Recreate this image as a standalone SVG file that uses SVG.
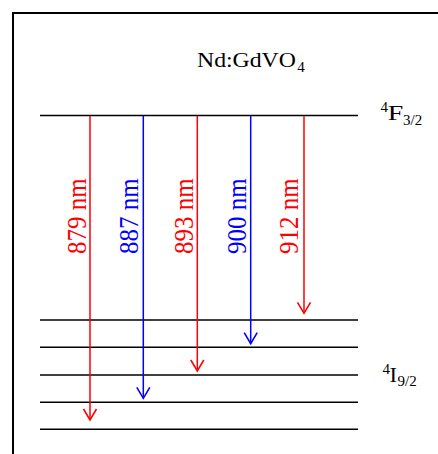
<svg xmlns="http://www.w3.org/2000/svg" width="438" height="454" viewBox="0 0 438 454">
<style>
text{font-family:"Liberation Serif","Times New Roman",serif;fill:#000;}
.lvl{stroke:#000;stroke-width:1.6;fill:none;}
.r{stroke:#ff0000;stroke-width:1.5;fill:none;}
.b{stroke:#0000ff;stroke-width:1.5;fill:none;}
.rt{fill:#ff0000;font-size:25px;}
.bt{fill:#0000ff;font-size:25px;}
.sm{font-size:15px;}
.big{font-size:20px;}
</style>
<defs>
<marker id="ar" markerUnits="userSpaceOnUse" orient="auto" markerWidth="20" markerHeight="20" refX="0" refY="0" viewBox="-14 -10 20 20" overflow="visible">
<path d="M-11,-6.5 L0,0 L-11,6.5" fill="none" stroke="#ff0000" stroke-width="1.6"/>
</marker>
<marker id="ab" markerUnits="userSpaceOnUse" orient="auto" markerWidth="20" markerHeight="20" refX="0" refY="0" viewBox="-14 -10 20 20" overflow="visible">
<path d="M-11,-6.5 L0,0 L-11,6.5" fill="none" stroke="#0000ff" stroke-width="1.6"/>
</marker>
</defs>
<g id="frame">
<path d="M13,454 L13,13 L438,13" fill="none" stroke="#000" stroke-width="2"/>
</g>
<g id="title">
<text transform="translate(197,66.7) scale(1.08,1)" font-size="22">Nd:GdVO</text>
<text class="sm" x="297.3" y="71.7">4</text>
</g>
<g id="levels">
<line class="lvl" x1="40" y1="115.5" x2="358" y2="115.5"/>
<line class="lvl" x1="40" y1="320" x2="358" y2="320"/>
<line class="lvl" x1="40" y1="347.3" x2="358" y2="347.3"/>
<line class="lvl" x1="40" y1="375" x2="358" y2="375"/>
<line class="lvl" x1="40" y1="402.3" x2="358" y2="402.3"/>
<line class="lvl" x1="40" y1="429.3" x2="358" y2="429.3"/>
</g>
<g id="label-F">
<text class="sm" x="380.5" y="112.3">4</text>
<text class="big" x="387.8" y="120" textLength="15.5" lengthAdjust="spacingAndGlyphs">F</text>
<text class="sm" x="403" y="125">3/2</text>
</g>
<g id="label-I">
<text class="sm" x="382.5" y="374">4</text>
<text class="big" x="389.5" y="381.5" textLength="7.5" lengthAdjust="spacingAndGlyphs">I</text>
<text class="sm" x="397.5" y="386">9/2</text>
</g>
<g id="connectors">
<line class="r" x1="90" y1="116" x2="90" y2="420" marker-end="url(#ar)"/>
<line class="b" x1="143.3" y1="116" x2="143.3" y2="398.3" marker-end="url(#ab)"/>
<line class="r" x1="197.3" y1="116" x2="197.3" y2="371" marker-end="url(#ar)"/>
<line class="b" x1="250.7" y1="116" x2="250.7" y2="343.6" marker-end="url(#ab)"/>
<line class="r" x1="304" y1="116" x2="304" y2="313.3" marker-end="url(#ar)"/>
</g>
<g id="labels">
<text class="rt" transform="translate(86,254) scale(1.12,1) rotate(-90)">879 nm</text>
<text class="bt" transform="translate(138.3,254) scale(1.12,1) rotate(-90)">887 nm</text>
<text class="rt" transform="translate(192.7,254) scale(1.12,1) rotate(-90)">893 nm</text>
<text class="bt" transform="translate(246,254) scale(1.12,1) rotate(-90)">900 nm</text>
<text class="rt" transform="translate(298.3,254) scale(1.12,1) rotate(-90)">912 nm</text>
</g>
</svg>
